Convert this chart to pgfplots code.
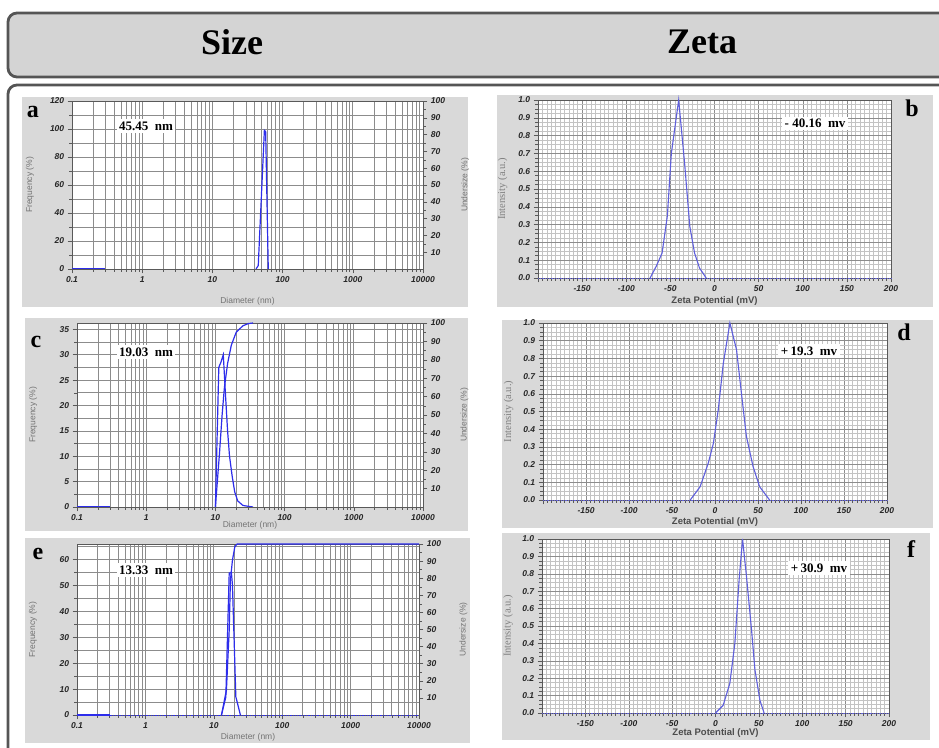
\documentclass[border=0pt]{standalone}
\usepackage{fontspec}
\setmainfont{Liberation Serif}
\setsansfont{Liberation Sans}
\usepackage{pgfplots}
\pgfplotsset{compat=1.18}

\definecolor{panelbg}{RGB}{217,217,217}
\definecolor{hdrbg}{RGB}{212,212,212}
\definecolor{framec}{RGB}{85,85,85}
\definecolor{sizeblue}{RGB}{45,45,235}
\definecolor{zetablue}{RGB}{95,95,220}
\definecolor{gridc}{RGB}{140,140,140}
\definecolor{gridl}{RGB}{195,195,195}

\newcommand{\tickfont}{\fontsize{8.5}{9}\selectfont\sffamily\bfseries\itshape}
\newcommand{\labfont}{\fontsize{8.5}{9}\selectfont\sffamily}

\pgfplotsset{
  common/.style={scale only axis, anchor=south west,
    axis line style={black!65, line width=0.6pt},
    tick style={black!65, line width=0.5pt}, tick align=outside,
    tick label style={font=\tickfont, text=black!85},
    /pgf/number format/assume math mode=true,
    label style={font=\labfont, text=black!55},
    xlabel style={anchor=center}, ylabel style={anchor=center}},
  % frame of a size panel: decade exponents on a linear axis
  sizeF/.style={common,
    xmin=-1, xmax=4, xtick={-1,0,1,2,3,4},
    xticklabels={0.1,1,10,100,1000,10000},
    minor xtick={-0.699,-0.523,-0.398,-0.301,-0.222,-0.155,-0.097,-0.046,
      0.301,0.477,0.602,0.699,0.778,0.845,0.903,0.954,
      1.301,1.477,1.602,1.699,1.778,1.845,1.903,1.954,
      2.301,2.477,2.602,2.699,2.778,2.845,2.903,2.954,
      3.301,3.477,3.602,3.699,3.778,3.845,3.903,3.954},
    ymin=0, grid=both, xtick pos=bottom, ytick pos=left,
    major grid style={gridc, line width=0.7pt},
    minor grid style={gridc, line width=0.6pt},
    xlabel={Diameter (nm)}, ylabel={Frequency (\%)}},
  sizeD/.style={scale only axis, anchor=south west, hide axis,
    xmin=0.1, xmax=10000, ymin=0},
  sizeR/.style={common, xmin=0.1, xmax=10000, ymin=0, ymax=100,
    axis y line*=right, axis x line=none,
    ytick={10,20,30,40,50,60,70,80,90,100}, minor y tick num=1,
    ylabel={Undersize (\%)}},
  zeta/.style={common, clip=false, axis background/.style={fill=white},
    xmin=-200, xmax=200, ymin=0, ymax=1,
    xtick={-200,-150,-100,-50,0,50,100,150,200},
    xticklabels={,-150,-100,-50,0,50,100,150,200},
    ytick={0,0.1,0.2,0.3,0.4,0.5,0.6,0.7,0.8,0.9,1},
    yticklabel style={/pgf/number format/.cd, fixed, fixed zerofill, precision=1},
    minor x tick num=9, minor y tick num=3, grid=both,
    xtick pos=bottom, ytick pos=left,
    major grid style={gridc, line width=0.5pt},
    minor grid style={gridl, line width=0.5pt},
    xlabel={Zeta Potential (mV)}, ylabel={Intensity (a.u.)},
    xlabel style={font=\fontsize{9.5}{10}\selectfont\sffamily\bfseries, text=black!70},
    ylabel style={font=\fontsize{10.5}{11}\selectfont\rmfamily, text=black!50}},
  curve/.style={sizeblue, line width=1.2pt},
  base0/.style={sizeblue, densely dotted, line width=0.8pt},
  zcurve/.style={zetablue, line width=1.1pt},
}

\newcommand{\ptag}[1]{{\fontsize{24}{24}\selectfont\bfseries #1}}
\newcommand{\val}[1]{{\fontsize{13}{14}\selectfont\bfseries #1}}

\begin{document}
\begin{tikzpicture}
\path[use as bounding box] (0pt,0pt) rectangle (939pt,747pt);
\clip (0pt,0pt) rectangle (939pt,747pt);
\fill[white] (0pt,0pt) rectangle (939pt,747pt);

% header band
\draw[framec, line width=2.8pt, fill=hdrbg, rounded corners=9pt] (8pt,734pt) rectangle (970pt,670pt);
\node[font=\fontsize{36}{40}\selectfont\bfseries] at (232pt,705pt) {Size};
\node[font=\fontsize{36}{40}\selectfont\bfseries] at (702pt,705pt) {Zeta};

% main frame
\draw[framec, line width=2.8pt, rounded corners=9pt] (8pt,662pt) rectangle (970pt,-30pt);

% panel backgrounds
\fill[panelbg] (22pt,440pt) rectangle (468pt,650pt);
\fill[panelbg] (497pt,440pt) rectangle (933pt,652pt);
\fill[panelbg] (25pt,216pt) rectangle (468pt,429pt);
\fill[panelbg] (502pt,219pt) rectangle (933pt,427pt);
\fill[panelbg] (25pt,4pt) rectangle (470pt,209pt);
\fill[panelbg] (502pt,7pt) rectangle (930pt,214pt);

% white plot areas and horizontal rulings of the size panels
\fill[white] (72pt,478pt) rectangle (423pt,646pt);
\fill[white] (77pt,240pt) rectangle (423pt,424pt);
\fill[white] (77pt,32pt) rectangle (419pt,203pt);
\foreach \k in {1,...,12}
  \draw[gridc, line width=0.7pt] (72pt,{478pt+14pt*\k}) -- (423pt,{478pt+14pt*\k});
\foreach \k in {1,...,14}
  \draw[gridc, line width=0.7pt] (77pt,{240pt+12.69pt*\k}) -- (423pt,{240pt+12.69pt*\k});
\draw[gridc, line width=0.7pt] (77pt,424pt) -- (423pt,424pt);
\foreach \k in {1,...,13}
  \draw[gridc, line width=0.7pt] (77pt,{32pt+12.955pt*\k}) -- (419pt,{32pt+12.955pt*\k});
\draw[gridc, line width=0.7pt] (77pt,203pt) -- (419pt,203pt);

% ---- a ----
\begin{axis}[sizeF, at={(72pt,478pt)}, width=351pt, height=168pt,
  ymax=120, ytick={0,20,40,60,80,100,120}, minor y tick num=1,
  xlabel style={at={(axis description cs:0.5,-0.19)}},
  ylabel style={at={(axis description cs:-0.12,0.5)}}]
\addplot[draw=none] coordinates {(0,0)};
\end{axis}
\begin{axis}[xmode=log, sizeD, at={(72pt,478pt)}, width=351pt, height=168pt, ymax=120]
\addplot[curve] coordinates {(0.1,0) (0.3,0)};
\addplot[base0] coordinates {(0.3,0) (10000,0)};
\addplot[curve] coordinates {(41.8,0) (45,2.4) (55,99) (57.4,98) (62.5,0)};
\end{axis}
\begin{axis}[xmode=log, sizeR, at={(72pt,478pt)}, width=351pt, height=168pt,
  ylabel style={at={(axis description cs:1.12,0.5)}}]
\addplot[draw=none] coordinates {(1,0) (10,100)};
\end{axis}

% ---- c ----
\begin{axis}[sizeF, at={(77pt,240pt)}, width=346pt, height=184pt,
  ymax=36.25, ytick={0,5,10,15,20,25,30,35}, minor y tick num=1,
  xlabel style={at={(axis description cs:0.5,-0.1)}},
  ylabel style={at={(axis description cs:-0.127,0.5)}}]
\addplot[draw=none] coordinates {(0,0)};
\end{axis}
\begin{axis}[xmode=log, sizeD, at={(77pt,240pt)}, width=346pt, height=184pt, ymax=36.25]
\addplot[curve] coordinates {(0.1,0) (0.3,0)};
\addplot[base0] coordinates {(0.3,0) (10000,0)};
\addplot[curve] coordinates {(10,0) (11.2,27.5) (12.0,28.5) (13.0,30) (14.0,22)
  (15,15) (16,10) (17.5,6) (19,3) (21,1.2) (25,0.3) (35,0)};
\end{axis}
\begin{axis}[xmode=log, sizeR, at={(77pt,240pt)}, width=346pt, height=184pt,
  ylabel style={at={(axis description cs:1.12,0.5)}}]
\addplot[curve] coordinates {(10,0) (11.5,30) (12.5,50) (13.5,65) (15,78)
  (17,88) (20,95) (25,98.5) (30,99.7) (35,100)};
\end{axis}

% ---- e ----
\begin{axis}[sizeF, at={(77pt,32pt)}, width=342pt, height=171pt,
  ymax=66, ytick={0,10,20,30,40,50,60}, minor y tick num=1,
  xlabel style={at={(axis description cs:0.5,-0.13)}},
  ylabel style={at={(axis description cs:-0.129,0.5)}}]
\addplot[draw=none] coordinates {(0,0)};
\end{axis}
\begin{axis}[xmode=log, sizeD, at={(77pt,32pt)}, width=342pt, height=171pt, ymax=66]
\addplot[curve] coordinates {(0.1,0) (0.3,0)};
\addplot[base0] coordinates {(0.3,0) (10000,0)};
\addplot[curve] coordinates {(12.95,0) (15,7) (16.8,54.8) (18.1,55) (18.75,50) (21,7) (24.5,0)};
\end{axis}
\begin{axis}[xmode=log, sizeR, at={(77pt,32pt)}, width=342pt, height=171pt,
  ylabel style={at={(axis description cs:1.13,0.5)}}]
\addplot[curve] coordinates {(12.95,0) (15.3,14.6) (16.8,49.7) (17.5,79) (18.75,90.6)
  (20.3,98.4) (22,100) (10000,100)};
\end{axis}

% ---- b ----
\begin{axis}[zeta, at={(538pt,469pt)}, width=353pt, height=178pt,
  xlabel style={at={(axis description cs:0.5,-0.13)}},
  ylabel style={at={(axis description cs:-0.1,0.5)}}]
\addplot[zetablue, densely dotted, line width=0.8pt] coordinates {(-200,0) (200,0)};
\addplot[zcurve] coordinates {(-73,0) (-66,0.066) (-59.4,0.14) (-53.4,0.35) (-48.9,0.70)
  (-40.6,1.0) (-33.8,0.64) (-28,0.29) (-22.6,0.14) (-17,0.056) (-9.4,0)};
\end{axis}

% ---- d ----
\begin{axis}[zeta, at={(543pt,247pt)}, width=344pt, height=177pt,
  xlabel style={at={(axis description cs:0.5,-0.124)}},
  ylabel style={at={(axis description cs:-0.1,0.5)}}]
\addplot[zetablue, densely dotted, line width=0.8pt] coordinates {(-200,0) (200,0)};
\addplot[zcurve] coordinates {(-28.8,0) (-17.3,0.075) (-7.7,0.21) (-1.9,0.32) (3.8,0.51)
  (9.6,0.77) (17.3,1.0) (25,0.85) (30.8,0.60) (36.5,0.36) (44.2,0.19) (51.9,0.075) (63.5,0)};
\end{axis}

% ---- f ----
\begin{axis}[zeta, at={(542pt,34pt)}, width=347pt, height=174pt,
  xlabel style={at={(axis description cs:0.5,-0.115)}},
  ylabel style={at={(axis description cs:-0.098,0.5)}}]
\addplot[zetablue, densely dotted, line width=0.8pt] coordinates {(-200,0) (200,0)};
\addplot[zcurve] coordinates {(0,0) (8.8,0.044) (16.5,0.17) (22.3,0.40) (27.3,0.77)
  (31.2,1.0) (35.8,0.78) (41.5,0.48) (45.4,0.25) (51.2,0.073) (56,0)};
\end{axis}

% panel letters
\node at (33pt,635.5pt) {\ptag{a}};
\node at (912pt,638.5pt) {\ptag{b}};
\node at (36pt,405pt) {\ptag{c}};
\node at (904pt,415pt) {\ptag{d}};
\node at (38pt,193pt) {\ptag{e}};
\node at (911pt,198pt) {\ptag{f}};

% values
\node[fill=white, inner sep=2.5pt] at (146pt,621pt) {\val{45.45\ \ nm}};
\node[fill=white, inner sep=2.5pt] at (146pt,395pt) {\val{19.03\ \ nm}};
\node[fill=white, inner sep=2.5pt] at (146pt,177pt) {\val{13.33\ \ nm}};
\node[fill=white, inner sep=2.5pt] at (815pt,623.5pt) {\val{-\ 40.16\ \ mv}};
\node[fill=white, inner sep=2.5pt] at (809pt,396pt) {\val{+\,19.3\ \ mv}};
\node[fill=white, inner sep=2.5pt] at (819pt,179pt) {\val{+\,30.9\ \ mv}};
\end{tikzpicture}
\end{document}
